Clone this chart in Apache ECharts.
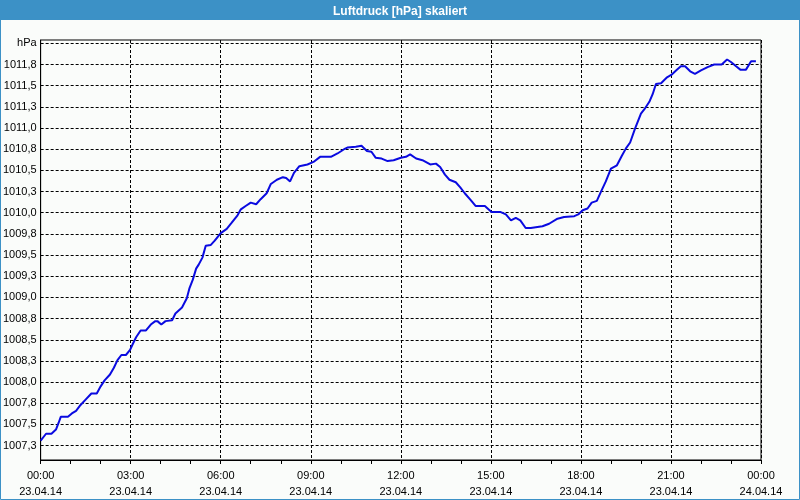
<!DOCTYPE html>
<html>
<head>
<meta charset="utf-8">
<script src="https://cdn.jsdelivr.net/npm/echarts@6/dist/echarts.min.js"></script>
<style>
html,body{margin:0;padding:0;background:#FAFCFA;}
#chart{width:800px;height:500px;}
</style>
</head>
<body>
<div id="chart"></div>
<script>
var chartTitle = 'Luftdruck [hPa] skaliert';
var unitLabel = 'hPa';
var timeLabels = ['00:00','03:00','06:00','09:00','12:00','15:00','18:00','21:00','00:00'];
var dateLabels = ['23.04.14','23.04.14','23.04.14','23.04.14','23.04.14','23.04.14','23.04.14','23.04.14','24.04.14'];
var yTickValues = [1007.25,1007.5,1007.75,1008,1008.25,1008.5,1008.75,1009,1009.25,1009.5,1009.75,1010,1010.25,1010.5,1010.75,1011,1011.25,1011.5,1011.75,1012];
var hours = [0,0.18,0.36,0.51,0.6,0.67,0.91,1.04,1.18,1.33,1.49,1.69,1.87,2.0,2.13,2.31,2.44,2.56,2.69,2.84,2.98,3.07,3.18,3.33,3.51,3.67,3.82,3.89,4.02,4.16,4.38,4.49,4.71,4.87,4.96,5.07,5.18,5.27,
  5.39,5.5,5.67,5.8,6.0,6.2,6.36,6.56,6.67,6.83,7.0,7.18,7.33,7.53,7.67,7.87,8.07,8.18,8.31,8.44,8.62,8.89,9.09,9.31,9.67,9.89,10.11,
  10.22,10.5,10.69,10.87,11.02,11.16,11.36,11.56,11.76,12.0,12.17,12.31,12.51,12.72,12.98,13.17,13.31,13.47,13.62,13.83,13.98,14.13,14.33,14.49,14.8,15.02,
  15.31,15.5,15.67,15.83,15.98,16.16,16.33,16.72,16.94,17.22,17.44,17.78,17.91,18.06,18.22,18.36,18.53,18.67,18.83,19.0,19.2,19.36,19.5,19.64,19.8,20.0,
  20.11,20.28,20.39,20.5,20.67,20.87,21.02,21.17,21.33,21.47,21.64,21.8,22.0,22.22,22.44,22.69,22.87,23.0,23.17,23.31,23.5,23.67,23.83];
var pressure = [1007.31,1007.39,1007.39,1007.44,1007.52,1007.59,1007.59,1007.63,1007.66,1007.73,1007.79,1007.865,1007.865,1007.95,1008.02,1008.09,1008.17,1008.26,1008.32,1008.32,1008.38,1008.45,1008.53,1008.61,1008.61,1008.68,1008.72,1008.72,1008.68,1008.72,1008.73,1008.81,1008.88,1008.99,1009.11,1009.21,1009.34,1009.39,
  1009.47,1009.61,1009.62,1009.67,1009.76,1009.81,1009.88,1009.97,1010.04,1010.08,1010.12,1010.10,1010.16,1010.23,1010.34,1010.39,1010.42,1010.41,1010.37,1010.47,1010.55,1010.57,1010.60,1010.66,1010.66,1010.70,1010.75,
  1010.77,1010.78,1010.79,1010.73,1010.72,1010.65,1010.64,1010.61,1010.62,1010.65,1010.66,1010.69,1010.64,1010.62,1010.57,1010.58,1010.54,1010.45,1010.39,1010.36,1010.30,1010.23,1010.15,1010.08,1010.08,1010.01,
  1010.01,1009.98,1009.91,1009.94,1009.91,1009.82,1009.82,1009.84,1009.87,1009.93,1009.95,1009.96,1009.98,1010.03,1010.05,1010.12,1010.14,1010.25,1010.37,1010.52,1010.56,1010.67,1010.76,1010.83,1010.99,1011.17,
  1011.22,1011.31,1011.40,1011.52,1011.53,1011.60,1011.63,1011.68,1011.73,1011.73,1011.67,1011.64,1011.68,1011.72,1011.75,1011.75,1011.81,1011.78,1011.73,1011.69,1011.69,1011.79,1011.79];

var seriesData = hours.map(function(h, i){ return [h, pressure[i]]; });
var FONT = '"Liberation Sans", Arial, sans-serif';
var chart = echarts.init(document.getElementById('chart'), null, {renderer: 'canvas'});
chart.setOption({
  backgroundColor: '#FAFCFA',
  animation: false,
  title: {
    text: chartTitle,
    left: 'center',
    top: 1,
    textStyle: {color: '#ffffff', fontFamily: FONT, fontSize: 12, fontWeight: 'bold'}
  },
  graphic: [
    {type: 'rect', z: -1, shape: {x: 0, y: 0, width: 800, height: 20}, style: {fill: '#3C91C6'}, silent: true},
    {type: 'rect', z: -1, shape: {x: 0.5, y: 0.5, width: 799, height: 499}, style: {fill: null, stroke: '#3C91C6', lineWidth: 1}, silent: true}
  ],
  grid: {
    left: 40, right: 39, top: 40, bottom: 40,
    show: true, borderColor: '#000000', borderWidth: 1, backgroundColor: 'transparent'
  },
  xAxis: {
    type: 'value', min: 0, max: 24, interval: 3,
    axisLine: {show: true, lineStyle: {color: '#000', width: 1}},
    axisTick: {show: true, length: 4, lineStyle: {color: '#000'}},
    minorTick: {show: true, splitNumber: 3, length: 4, lineStyle: {color: '#000'}},
    splitLine: {show: true, lineStyle: {color: '#000', type: [3, 2], width: 1}},
    axisLabel: {
      color: '#000', fontFamily: FONT, fontSize: 11, margin: 8, lineHeight: 16,
      formatter: function(v){ var i = Math.round(v / 3); return timeLabels[i] + '\n' + dateLabels[i]; }
    }
  },
  yAxis: {
    type: 'value', min: 1007.08, max: 1012.04,
    axisLine: {show: true, lineStyle: {color: '#000', width: 1}},
    axisTick: {show: false, customValues: yTickValues},
    splitLine: {show: true, lineStyle: {color: '#000', type: [3, 2], width: 1}},
    axisLabel: {
      customValues: yTickValues,
      color: '#000', fontFamily: FONT, fontSize: 11, margin: 4,
      formatter: function(v){ return Math.abs(v - 1012) < 1e-6 ? unitLabel : v.toFixed(1).replace('.', ','); }
    }
  },
  series: [{
    type: 'line', data: seriesData, showSymbol: false, symbol: 'none',
    lineStyle: {color: '#0A0AE0', width: 2}, clip: true
  }]
});
</script>
</body>
</html>
